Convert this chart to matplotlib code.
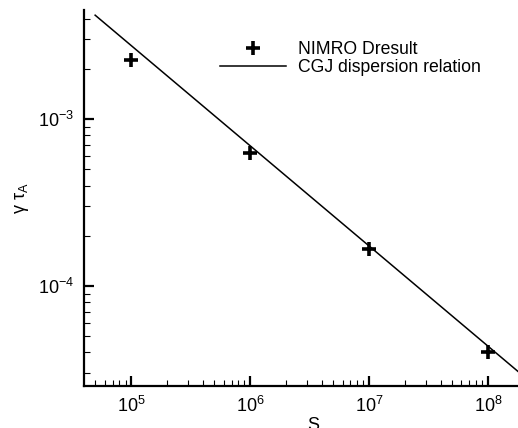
import matplotlib
matplotlib.use("Agg")
import matplotlib.pyplot as plt
from matplotlib.ticker import LogLocator, NullFormatter

plt.rcParams['font.family'] = ['Liberation Sans', 'DejaVu Sans']
plt.rcParams['mathtext.fontset'] = 'custom'
plt.rcParams['mathtext.rm'] = 'Liberation Sans'
plt.rcParams['mathtext.it'] = 'Liberation Sans:italic'
plt.rcParams['mathtext.default'] = 'regular'

# NIMROD results
s_points = [1e5, 1e6, 1e7, 1e8]
gamma_points = [2.25e-3, 6.28e-4, 1.66e-4, 4.05e-5]

# CGJ dispersion relation (straight line on log-log axes)
s_line = [5e4, 3e8]
gamma_line = [4.19e-3, 2.26e-5]

labels = ["NIMRO Dresult", "CGJ dispersion relation"]

fig = plt.figure(figsize=(5.18, 4.28), dpi=100)
ax = fig.add_axes([84/518, 42/428, (542-84)/518, (386-10)/428])

ax.plot(s_points, gamma_points, linestyle='none', marker='+', color='black',
        markersize=10.5, markeredgewidth=2.6, label=labels[0])
ax.plot(s_line, gamma_line, color='black', linewidth=1.1, label=labels[1])

ax.set_xscale('log')
ax.set_yscale('log')
ax.set_xlim(4.03e4, 2.85e8)
ax.set_ylim(2.52e-5, 4.5e-3)

for side in ['top', 'right']:
    ax.spines[side].set_visible(False)
for side in ['left', 'bottom']:
    ax.spines[side].set_linewidth(1.6)

ax.xaxis.set_major_locator(LogLocator(base=10, numticks=20))
ax.xaxis.set_minor_locator(LogLocator(base=10, subs=range(2, 10), numticks=20))
ax.yaxis.set_major_locator(LogLocator(base=10, numticks=20))
ax.yaxis.set_minor_locator(LogLocator(base=10, subs=range(2, 10), numticks=20))
ax.xaxis.set_minor_formatter(NullFormatter())
ax.yaxis.set_minor_formatter(NullFormatter())

ax.tick_params(which='major', direction='in', length=7, width=1.6, labelsize=13, pad=7)
ax.tick_params(which='minor', direction='in', length=4, width=0.8)

ax.set_xlabel('S', fontsize=13, labelpad=1)
ax.set_ylabel('γ τ$_{A}$', fontsize=13, labelpad=5)

leg = ax.legend(loc='upper left', bbox_to_anchor=(220/518, 1 - 41/428),
                bbox_transform=fig.transFigure, frameon=False, fontsize=12.7,
                handlelength=3.75, handletextpad=0.68, labelspacing=0.08,
                numpoints=1, borderpad=0, borderaxespad=0)

fig.savefig('out.png', dpi=100)
